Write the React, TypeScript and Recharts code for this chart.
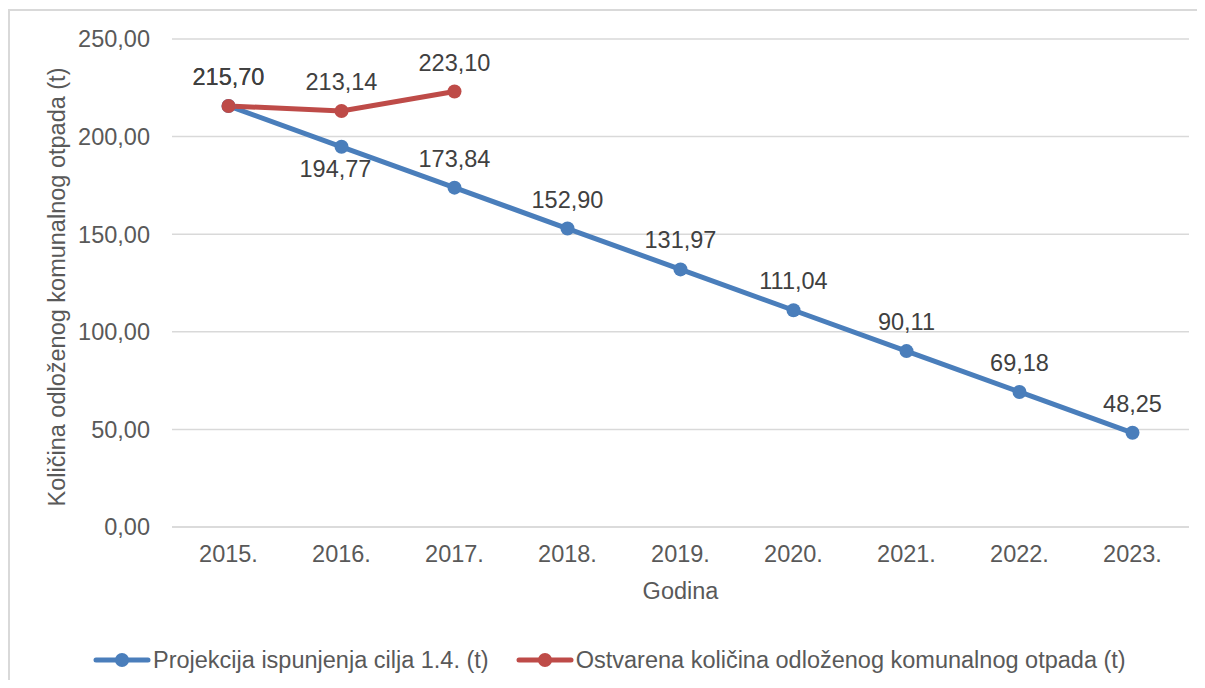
import React from 'react';
import {
  CartesianGrid,
  LabelList,
  Legend,
  Line,
  LineChart,
  XAxis,
  YAxis,
} from 'recharts';

const years = ['2015.', '2016.', '2017.', '2018.', '2019.', '2020.', '2021.', '2022.', '2023.'];
const projection = [215.7, 194.77, 173.84, 152.9, 131.97, 111.04, 90.11, 69.18, 48.25];
const actual = [215.7, 213.14, 223.1];
const yTicks = [0, 50, 100, 150, 200, 250];

const seriesNames = {
  projection: 'Projekcija ispunjenja cilja 1.4. (t)',
  actual: 'Ostvarena količina odloženog komunalnog otpada (t)',
};

const BLUE = '#4a7ebb';
const RED = '#be4b48';
const FONT = '"Liberation Sans", Arial, sans-serif';
const FS = 23.5;

const data = years.map((year, i) => ({
  year,
  projection: projection[i],
  actual: i < actual.length ? actual[i] : null,
}));

const fmt = (v: number) => v.toFixed(2).replace('.', ',');

const renderLabel = (below: number[]) => (props: any) => {
  const { x, y, value, index } = props;
  if (value == null) return null;
  const isBelow = below.includes(index);
  return (
    <text
      x={isBelow ? x - 6 : x}
      y={isBelow ? y + 22 : y - 29}
      textAnchor="middle"
      dominantBaseline="central"
      fontSize={FS}
      fontFamily={FONT}
      fill="#404040"
    >
      {fmt(value)}
    </text>
  );
};

const LegendIcon = ({ color }: { color: string }) => (
  <svg width={58} height={18} style={{ display: 'block' }}>
    <line x1={3} y1={9} x2={55} y2={9} stroke={color} strokeWidth={5} strokeLinecap="round" />
    <circle cx={29} cy={9} r={7} fill={color} />
  </svg>
);

const renderLegend = () => (
  <div
    style={{
      height: 78,
      paddingLeft: 85,
      paddingTop: 38,
      boxSizing: 'border-box',
      display: 'flex',
      alignItems: 'center',
      fontFamily: FONT,
      fontSize: FS,
      color: '#595959',
      whiteSpace: 'nowrap',
    }}
  >
    <LegendIcon color={BLUE} />
    <span style={{ marginLeft: 2 }}>{seriesNames.projection}</span>
    <span style={{ width: 27 }} />
    <LegendIcon color={RED} />
    <span style={{ marginLeft: 2 }}>{seriesNames.actual}</span>
  </div>
);

const App = () => {
  return (
    <div style={{ position: 'relative', width: 1197, height: 672, overflow: 'hidden' }}>
      <div
        style={{
          position: 'absolute',
          left: 0,
          top: 1,
          width: 1197,
          height: 671,
          borderLeft: '2px solid #d9d9d9',
          borderTop: '2px solid #d9d9d9',
          boxSizing: 'border-box',
        }}
      />
      <LineChart
        width={1197}
        height={672}
        data={data}
        margin={{ top: 31, right: 16, left: 0, bottom: 0 }}
        style={{ position: 'absolute', left: 0, top: 0 }}
      >
        <CartesianGrid vertical={false} stroke="#d9d9d9" strokeWidth={1.5} />
        <XAxis
          dataKey="year"
          height={75}
          padding={{ left: 56.5, right: 56.5 }}
          tickLine={false}
          axisLine={{ stroke: '#d9d9d9', strokeWidth: 1.5 }}
          tickSize={0}
          tickMargin={18}
          tick={{ fill: '#595959', fontSize: FS, fontFamily: FONT }}
          label={{
            value: 'Godina',
            position: 'insideBottom',
            offset: 0,
            dy: -3,
            fill: '#595959',
            fontSize: FS,
            fontFamily: FONT,
          }}
        />
        <YAxis
          width={164}
          domain={[0, 250]}
          ticks={yTicks}
          tickFormatter={fmt}
          tickLine={false}
          axisLine={false}
          tickSize={0}
          tickMargin={22}
          tick={{ fill: '#595959', fontSize: FS, fontFamily: FONT }}
          label={{
            content: (props: any) => {
              const vb = props.viewBox;
              const cx = 49;
              const cy = vb.y + vb.height / 2 + 4;
              return (
                <text
                  x={cx}
                  y={cy}
                  transform={`rotate(-90, ${cx}, ${cy})`}
                  textAnchor="middle"
                  dominantBaseline="central"
                  fontSize={FS}
                  fontFamily={FONT}
                  fill="#595959"
                >
                  Količina odloženog komunalnog otpada (t)
                </text>
              );
            },
          }}
        />
        <Legend verticalAlign="bottom" content={renderLegend} />
        <Line
          dataKey="projection"
          name={seriesNames.projection}
          stroke={BLUE}
          strokeWidth={5}
          dot={{ r: 7, fill: BLUE, stroke: BLUE, strokeWidth: 0 }}
          isAnimationActive={false}
        >
          <LabelList dataKey="projection" content={renderLabel([1])} />
        </Line>
        <Line
          dataKey="actual"
          name={seriesNames.actual}
          stroke={RED}
          strokeWidth={5}
          dot={{ r: 7, fill: RED, stroke: RED, strokeWidth: 0 }}
          isAnimationActive={false}
        >
          <LabelList dataKey="actual" content={renderLabel([])} />
        </Line>
      </LineChart>
    </div>
  );
};

export default App;
